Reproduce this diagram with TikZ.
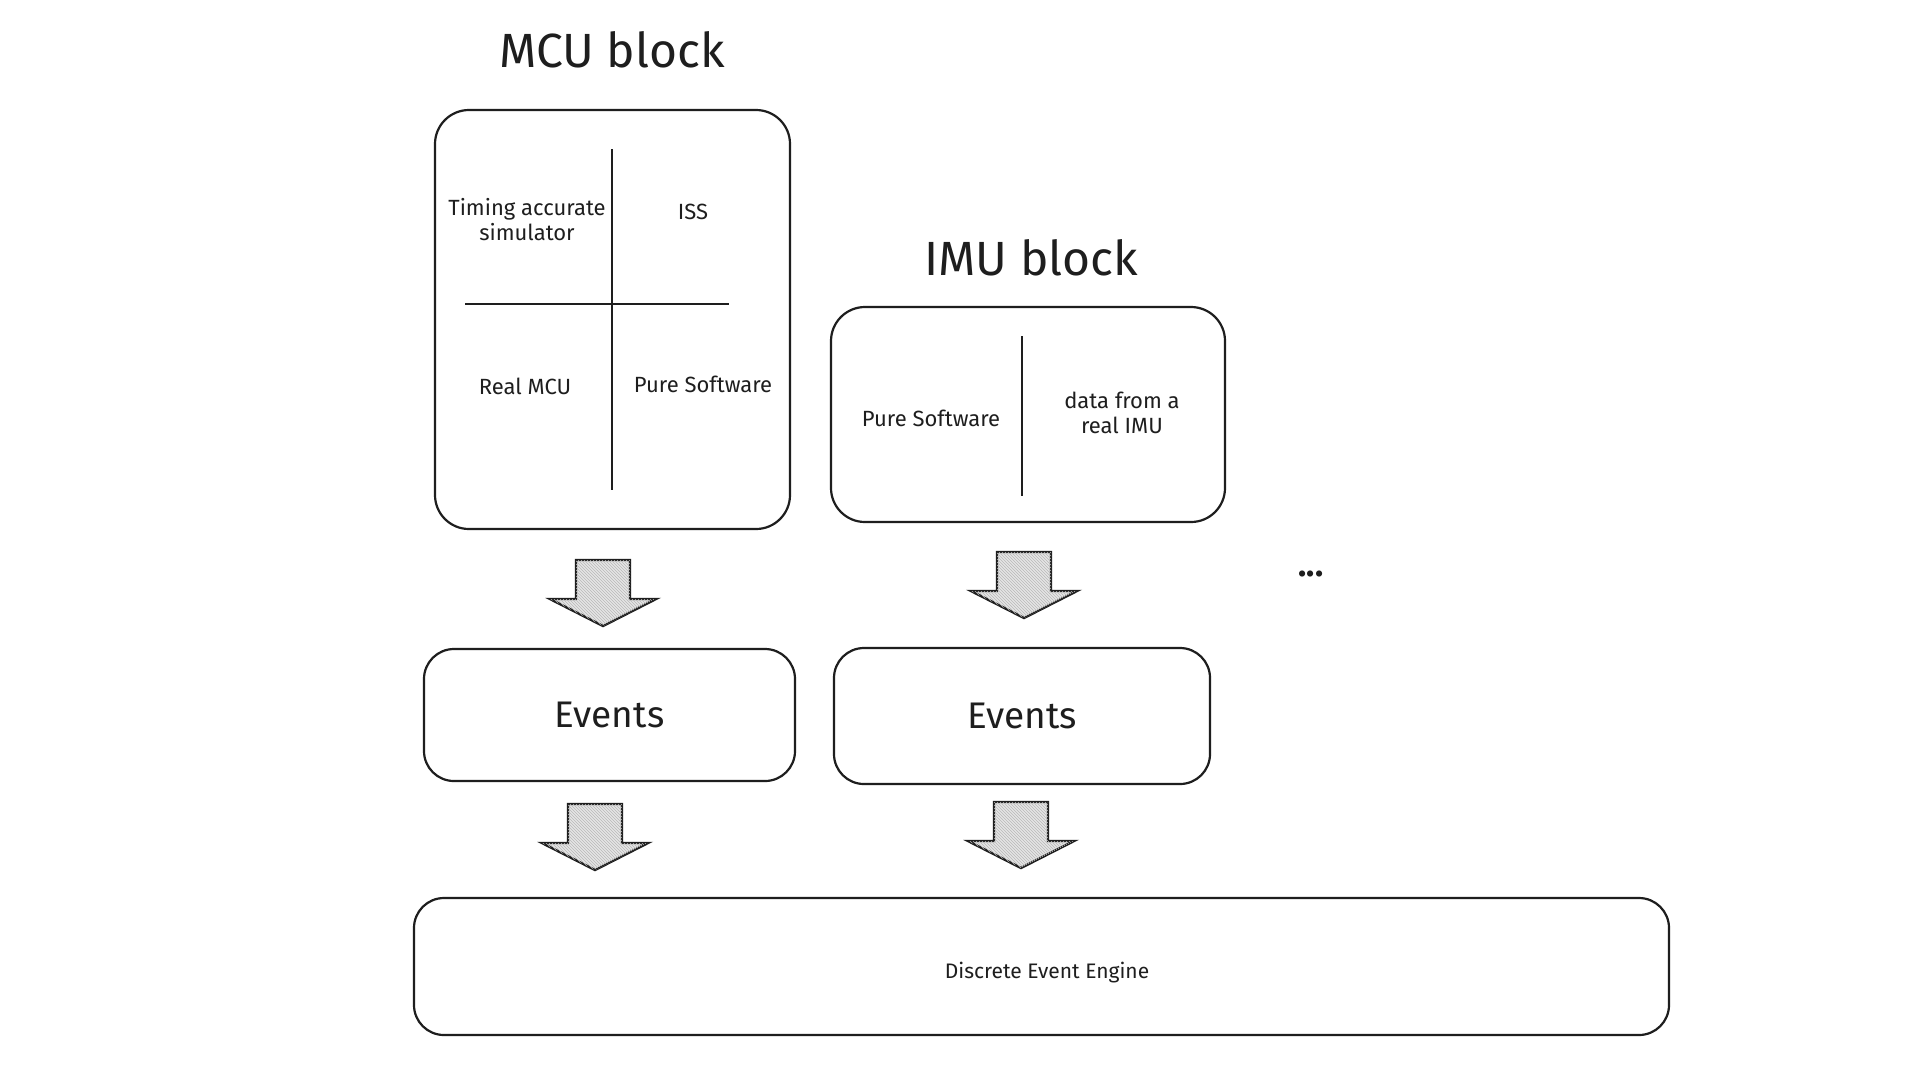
\documentclass[tikz,border=0pt]{standalone}
\usepackage{fontspec}
\setmainfont{Fira Sans}
\usetikzlibrary{patterns}
\definecolor{ink}{HTML}{1E1E1E}
\tikzset{
  x=1pt, y=-1pt,
  box/.style={draw=ink, line width=2.2pt, rounded corners=34pt, inner sep=0pt, text=ink, align=center},
  divider/.style={draw=ink, line width=2.2pt},
  lbl/.style={text=ink, align=center, font=\fontsize{22}{25}\selectfont, inner sep=0pt},
  title/.style={text=ink, font=\fontsize{48}{52}\selectfont, inner sep=0pt},
  bigtxt/.style={font=\fontsize{37}{40}\selectfont},
  barrow/.style={draw=ink, line width=2.4pt, line join=miter, fill=gray!20,
     postaction={pattern=north west lines, pattern color=gray!55}},
}
\newcommand\blockarr[3]{% name, center x, top y
  \coordinate (#1) at (#2,#3);
  \draw[barrow] ({#2-27},#3) -- ({#2+27},#3) -- ({#2+27},{#3+39}) -- ({#2+53},{#3+39})
     -- (#2,{#3+66}) -- ({#2-53},{#3+39}) -- ({#2-27},{#3+39}) -- cycle;
}
\begin{document}
\begin{tikzpicture}
\useasboundingbox[fill=white] (0,0) rectangle (1920,1080);

% titles
\node[title] (mcut) at (612,50) {MCU block};
\node[title] (imut) at (1031,258) {IMU block};

% MCU block
\node[box, minimum width=355pt, minimum height=419pt] (mcu) at (612.5,319.5) {};
\coordinate (mv1) at (612,149); \coordinate (mv2) at (612,490);
\coordinate (mh1) at (465,304); \coordinate (mh2) at (729,304);
\draw[divider] (mv1) -- (mv2);
\draw[divider] (mh1) -- (mh2);
\node[lbl] (tas) at (527,220) {Timing accurate\\simulator};
\node[lbl] (iss) at (693,212) {ISS};
\node[lbl] (rmcu) at (525,386) {Real MCU};
\node[lbl] (psw1) at (703,384) {Pure Software};

% IMU block
\node[box, minimum width=394pt, minimum height=215pt] (imu) at (1028,414.5) {};
\coordinate (iv1) at (1022,336); \coordinate (iv2) at (1022,496);
\draw[divider] (iv1) -- (iv2);
\node[lbl] (psw2) at (931,418) {Pure Software};
\node[lbl] (dreal) at (1122,413) {data from a\\real IMU};

% dots
\node[text=ink, font=\fontsize{34}{36}\selectfont\bfseries, inner sep=0pt] (dots) at (1311,574) {...};

% block arrows
\blockarr{a1}{603}{560}
\blockarr{a2}{1024}{552}
\blockarr{a3}{595}{804}
\blockarr{a4}{1021}{802}

% events
\node[box, bigtxt, rounded corners=30pt, minimum width=371pt, minimum height=132pt] (ev1) at (609.5,715) {Events};
\node[box, bigtxt, rounded corners=30pt, minimum width=376pt, minimum height=136pt] (ev2) at (1022,716) {Events};

% engine
\node[box, rounded corners=30pt, minimum width=1255pt, minimum height=137pt] (dee) at (1041.5,966.5) {};
\node[lbl, font=\fontsize{21}{24}\selectfont] (deet) at (1047,973) {Discrete Event Engine};
\end{tikzpicture}
\end{document}
